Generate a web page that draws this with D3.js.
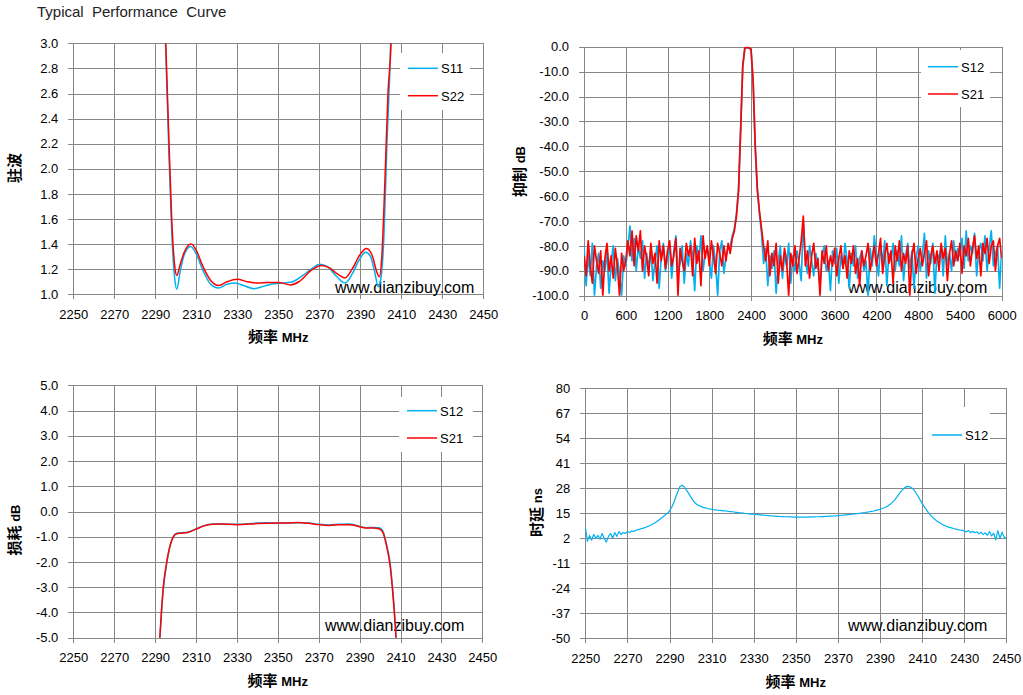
<!DOCTYPE html>
<html>
<head>
<meta charset="utf-8">
<title>Typical Performance Curve</title>
<script src="https://cdn.jsdelivr.net/npm/d3@7"></script>
<style>
  body { margin: 0; background: #fff; }
  svg text { font-family: "Liberation Sans", Arial, "Noto Sans CJK SC", sans-serif; fill: #000; }
  .grid line { stroke: #878787; stroke-width: 1; shape-rendering: crispEdges; }
  .grid path { display: none; }
  .axis path, .axis line { stroke: #878787; stroke-width: 1; shape-rendering: crispEdges; }
  .axis text { font-size: 13px; }
  .atitle { font-size: 13px; font-weight: bold; }
  .cjk { font-family: "Noto Sans CJK SC", sans-serif; font-size: 15px; }
  .mark { font-size: 16px; }
  .title { font-size: 15px; white-space: pre; fill: #222; }
</style>
</head>
<body>
<svg id="chart" width="1023" height="695"></svg>
<script>
// ---- 驻波 (VSWR) ----
var vswrFreqS11 = [2293, 2295, 2296.5, 2298, 2299.5, 2300.5, 2302, 2304, 2307.3, 2310,
                   2313, 2317, 2320.7, 2325, 2329, 2333, 2338, 2343, 2348, 2353,
                   2357, 2362, 2366, 2370.3, 2374, 2378, 2382.5, 2386, 2389, 2392.6,
                   2395, 2397, 2398.8, 2400, 2401.5, 2403, 2404.8, 2406];
var vswrS11 = [4.0, 3.0, 2.2, 1.5, 1.12, 1.04, 1.17, 1.31, 1.38, 1.32,
               1.2, 1.08, 1.05, 1.08, 1.09, 1.07, 1.045, 1.065, 1.085, 1.09,
               1.10, 1.15, 1.2, 1.24, 1.22, 1.15, 1.09, 1.16, 1.26, 1.335,
               1.30, 1.18, 1.06, 1.12, 1.45, 2.2, 3.0, 4.0];
var vswrFreqS22 = [2293, 2295.1, 2296.5, 2298, 2299.5, 2300.5, 2302, 2304, 2307.5, 2310,
                   2313, 2317, 2321, 2325, 2330, 2335, 2340, 2345, 2350, 2356,
                   2360, 2366, 2371, 2375, 2379, 2382.5, 2386, 2390, 2393, 2396,
                   2398, 2399.3, 2400.5, 2402, 2403.5, 2405, 2406.5];
var vswrS22 = [4.0, 3.0, 2.3, 1.6, 1.22, 1.15, 1.23, 1.33, 1.40, 1.35,
               1.23, 1.11, 1.07, 1.1, 1.12, 1.1, 1.09, 1.095, 1.095, 1.075,
               1.1, 1.19, 1.23, 1.21, 1.16, 1.13, 1.2, 1.32, 1.365, 1.30,
               1.18, 1.14, 1.3, 1.9, 2.6, 3.0, 4.0];

// ---- 抑制 (wideband rejection), 0..6000 MHz every 30 MHz ----
var rejFreq = d3.range(0, 6001, 30);
var rejS21 = [
  -84, -92, -78, -88, -95, -80, -86, -91, -82, -100,
  -85, -79, -90, -84, -93, -81, -88, -100, -83, -90,
  -86, -78, -84, -74, -88, -76, -82, -74, -90, -80,
  -85, -92, -79, -87, -83, -95, -78, -86, -80, -89,
  -82, -78, -88, -84, -77, -100, -81, -86, -90, -79,
  -84, -80, -92, -77, -87, -82, -96, -76, -85, -80,
  -88, -78, -84, -91, -79, -83, -88, -80, -86, -79,
  -83, -77, -74, -68, -58, -34, -8, -0.5, -0.3, -0.4,
  -1.2, -14, -40, -57, -66, -73, -80, -86, -78, -92,
  -83, -88, -79, -95, -84, -90, -81, -86, -100, -83,
  -88, -80, -91, -85, -78, -68, -88, -82, -93, -84,
  -79, -89, -85, -100, -82, -87, -80, -90, -84, -88,
  -81, -92, -85, -80, -89, -84, -93, -82, -87, -80,
  -91, -85, -96, -82, -88, -84, -79, -90, -85, -80,
  -88, -83, -77, -91, -84, -79, -87, -82, -95, -80,
  -86, -78, -90, -83, -87, -80, -100, -84, -79, -91,
  -85, -81, -88, -83, -78, -92, -84, -80, -87, -82,
  -90, -79, -85, -81, -94, -83, -78, -88, -82, -86,
  -79, -91, -80, -84, -77, -88, -81, -76, -85, -80,
  -92, -79, -83, -77, -87, -80, -78, -90, -80, -77,
  -85];
var rejS12 = [
  -80, -96, -84, -92, -79, -100, -88, -83, -97, -86,
  -90, -82, -99, -87, -80, -94, -85, -91, -100, -84,
  -88, -81, -72, -86, -77, -90, -80, -85, -78, -93,
  -83, -89, -81, -94, -86, -80, -97, -84, -79, -90,
  -85, -80, -93, -82, -76, -91, -87, -80, -95, -83,
  -88, -78, -84, -98, -80, -86, -76, -90, -83, -81,
  -86, -93, -80, -87, -100, -82, -78, -91, -84, -81,
  -80, -76, -73, -67, -57, -33, -8, -0.6, -0.4, -0.5,
  -1.3, -15, -41, -58, -67, -75, -87, -81, -96, -84,
  -89, -82, -99, -86, -80, -93, -84, -88, -79, -95,
  -84, -90, -82, -87, -94, -70, -85, -91, -80, -86,
  -92, -83, -88, -96, -84, -80, -90, -86, -98, -82,
  -87, -81, -95, -84, -89, -79, -86, -97, -83, -88,
  -80, -93, -85, -82, -90, -86, -100, -81, -88, -76,
  -84, -92, -80, -87, -78, -96, -83, -86, -79, -90,
  -82, -88, -76, -94, -84, -79, -89, -82, -97, -85,
  -80, -90, -84, -75, -93, -82, -87, -79, -99, -83,
  -85, -80, -92, -76, -88, -83, -90, -78, -86, -81,
  -84, -77, -89, -74, -86, -80, -83, -75, -92, -82,
  -79, -86, -76, -90, -81, -74, -88, -83, -80, -97,
  -82];

// ---- 损耗 (insertion loss) ----
var ilFreq = [2291, 2292.3, 2294, 2295.7, 2297.5, 2299, 2300.6, 2303, 2306, 2310,
              2314, 2318, 2322, 2330, 2340, 2345, 2350, 2355, 2360, 2365,
              2370, 2375, 2380, 2385, 2390, 2393, 2397, 2399.5, 2401.5, 2403,
              2405, 2406.5, 2407.8, 2409];
var ilS21 = [-7, -5.0, -3.0, -2.0, -1.3, -1.0, -0.88, -0.86, -0.83, -0.7,
             -0.57, -0.51, -0.5, -0.52, -0.48, -0.47, -0.46, -0.46, -0.44, -0.47,
             -0.52, -0.55, -0.52, -0.52, -0.6, -0.65, -0.65, -0.68, -0.85, -1.3,
             -2.2, -3.5, -5.0, -7];
var ilS12 = [-7, -5.1, -3.1, -2.05, -1.32, -0.98, -0.86, -0.84, -0.82, -0.69,
             -0.56, -0.5, -0.5, -0.51, -0.46, -0.45, -0.46, -0.45, -0.45, -0.46,
             -0.51, -0.53, -0.51, -0.5, -0.59, -0.64, -0.63, -0.64, -0.8, -1.25,
             -2.1, -3.4, -4.9, -7];

// ---- 时延 (group delay), 2250..2450 MHz every 1 MHz ----
var gdFreq = d3.range(2250, 2451, 1);
var gdS12 = [
  8, 0.5, 3.5, 1, 4, 2, 3.5, 1.5, 4.5, 2, 0, 3, 4.5, 2, 5, 3, 5.5, 4, 5, 4.5,
  5.5, 5, 5.8, 5.6, 6.2, 6.5, 6.8, 7.2, 7.4, 7.9,
  8.3, 8.8, 9.4, 10, 10.8, 11.5, 12.4, 13.2, 14.1, 15,
  16.2, 18, 20.5, 23.5, 26.5, 29, 29.6, 28.8, 27.2, 25.5,
  23.7, 22, 20.6, 19.6, 19, 18.6, 18.1, 17.8, 17.5, 17.3,
  17.1, 16.9, 16.8, 16.6, 16.5, 16.4, 16.3, 16.2, 16.0, 15.9,
  15.8, 15.6, 15.5, 15.3, 15.2, 15.1, 14.9, 14.8, 14.7, 14.6,
  14.5, 14.4, 14.3, 14.2, 14.1, 14.0, 13.9, 13.8, 13.7, 13.6,
  13.5, 13.4, 13.4, 13.3, 13.3, 13.2, 13.2, 13.1, 13.1, 13.0,
  13.0, 13.0, 13.0, 13.0, 13.0, 13.0, 13.0, 13.1, 13.1, 13.1,
  13.2, 13.2, 13.3, 13.3, 13.4, 13.4, 13.5, 13.5, 13.6, 13.7,
  13.8, 13.9, 14.0, 14.1, 14.2, 14.3, 14.4, 14.5, 14.7, 14.8,
  15.0, 15.1, 15.3, 15.4, 15.6, 15.8, 16.0, 16.2, 16.5, 16.8,
  17.1, 17.5, 17.9, 18.4, 19.0, 19.8, 20.8, 22.0, 23.4, 25.0,
  26.4, 27.6, 28.5, 29.0, 28.9, 28.3, 27.3, 25.8, 24.0, 22.1,
  20.3, 18.5, 16.9, 15.4, 14.1, 12.9, 11.9, 11.0, 10.3, 9.6,
  9.0, 8.5, 8.1, 7.7, 7.4, 7.1, 6.8, 6.5, 6.3, 6.1,
  5.9, 5.3, 6.0, 5.0, 5.6, 4.9, 5.4, 4.3, 5.2, 3.9,
  4.8, 3.6, 5.5, 3.2, 4.6, 1.2, 6.0, 2.0, 5.2, 2.6, 2.0];

// ---- tick labels ----
var bandTicks = d3.range(2250, 2451, 20);
var wideTicks = d3.range(0, 6001, 600);
var vswrTicks = [1.0, 1.2, 1.4, 1.6, 1.8, 2.0, 2.2, 2.4, 2.6, 2.8, 3.0];
var rejTicks = [0, -10, -20, -30, -40, -50, -60, -70, -80, -90, -100];
var ilTicks = [5, 4, 3, 2, 1, 0, -1, -2, -3, -4, -5];
var gdTicks = [80, 67, 54, 41, 28, 15, 2, -11, -24, -37, -50];

var BLUE = "#00b0f0", RED = "#ff0000";
var fmt1 = function(d) { return d.toFixed(1); };

var svg = d3.select("#chart");
svg.append("text").attr("class", "title").attr("x", 37).attr("y", 17)
  .text("Typical  Performance  Curve");

function zip(xs, ys) { return xs.map(function(v, i) { return [v, ys[i]]; }); }

var panels = [
  { left: 73.3, right: 483.3, top: 43.3, bottom: 294.3,
    xDomain: [2250, 2450], yDomain: [1, 3], xTicks: bandTicks, yTicks: vswrTicks, yFmt: fmt1,
    yTitle: "驻波", yUnit: "", yTitlePos: [15, 168], xTitleY: 342, curve: d3.curveMonotoneX, width: 1.5,
    series: [{ name: "S11", color: BLUE, pts: zip(vswrFreqS11, vswrS11) },
             { name: "S22", color: RED, pts: zip(vswrFreqS22, vswrS22) }],
    legend: { x: 400, y: 53, w: 70, h: 57, lx: 408, ly: [68.3, 95.7] }, mark: [335, 293] },
  { left: 584, right: 1001.7, top: 46.7, bottom: 295.7,
    xDomain: [0, 6000], yDomain: [-100, 0], xTicks: wideTicks, yTicks: rejTicks, yFmt: fmt1,
    yTitle: "抑制", yUnit: " dB", yTitlePos: [519.5, 171.5], xTitleY: 343.5, curve: d3.curveLinear, width: 1.7,
    series: [{ name: "S12", color: BLUE, pts: zip(rejFreq, rejS12) },
             { name: "S21", color: RED, pts: zip(rejFreq, rejS21) }],
    legend: { x: 921, y: 50, w: 69, h: 57, lx: 928, ly: [66.7, 94] }, mark: [848, 293] },
  { left: 73.3, right: 482.3, top: 385.3, bottom: 637.7,
    xDomain: [2250, 2450], yDomain: [-5, 5], xTicks: bandTicks, yTicks: ilTicks, yFmt: fmt1,
    yTitle: "损耗", yUnit: " dB", yTitlePos: [15, 530], xTitleY: 686, curve: d3.curveMonotoneX, width: 1.5,
    series: [{ name: "S12", color: BLUE, pts: zip(ilFreq, ilS12) },
             { name: "S21", color: RED, pts: zip(ilFreq, ilS21) }],
    legend: { x: 399, y: 397, w: 74, h: 55, lx: 407, ly: [410.7, 438] }, mark: [325, 631] },
  { left: 585.3, right: 1006.3, top: 388.3, bottom: 638.3,
    xDomain: [2250, 2450], yDomain: [-50, 80], xTicks: bandTicks, yTicks: gdTicks, yFmt: String,
    yTitle: "时延", yUnit: " ns", yTitlePos: [537, 512.5], xTitleY: 687, curve: d3.curveLinear, width: 1.2,
    series: [{ name: "S12", color: BLUE, pts: zip(gdFreq, gdS12) }],
    legend: { x: 923, y: 407, w: 67, h: 56, lx: 932, ly: [435] }, mark: [848, 631] }
];

panels.forEach(function(p, pi) {
  var w = p.right - p.left, h = p.bottom - p.top;
  var x = d3.scaleLinear().domain(p.xDomain).range([p.left, p.right]);
  var y = d3.scaleLinear().domain(p.yDomain).range([p.bottom, p.top]);
  var g = svg.append("g");

  // grid lines
  g.append("g").attr("class", "grid").attr("transform", "translate(0," + p.bottom + ")")
    .call(d3.axisBottom(x).tickValues(p.xTicks).tickSize(-h).tickFormat(""));
  g.append("g").attr("class", "grid").attr("transform", "translate(" + p.left + ",0)")
    .call(d3.axisLeft(y).tickValues(p.yTicks).tickSize(-w).tickFormat(""));

  // axes with outside tick marks
  g.append("g").attr("class", "axis").attr("transform", "translate(0," + p.bottom + ")")
    .call(d3.axisBottom(x).tickValues(p.xTicks).tickSizeInner(5).tickSizeOuter(0).tickPadding(10)
      .tickFormat(function(d) { return String(d); }));
  g.append("g").attr("class", "axis").attr("transform", "translate(" + p.left + ",0)")
    .call(d3.axisLeft(y).tickValues(p.yTicks).tickSizeInner(5).tickSizeOuter(0).tickPadding(10)
      .tickFormat(p.yFmt));

  // legend box (hides gridlines behind it)
  var lg = p.legend;
  g.append("rect").attr("x", lg.x).attr("y", lg.y).attr("width", lg.w).attr("height", lg.h)
    .attr("fill", "#fff");

  // watermark
  g.append("text").attr("class", "mark").attr("x", p.mark[0]).attr("y", p.mark[1])
    .text("www.dianzibuy.com");

  // series
  var clipId = "clip" + pi;
  svg.append("clipPath").attr("id", clipId).append("rect")
    .attr("x", p.left).attr("y", p.top).attr("width", w).attr("height", h);
  var line = d3.line().curve(p.curve)
    .x(function(d) { return x(d[0]); }).y(function(d) { return y(d[1]); });
  g.append("g").attr("clip-path", "url(#" + clipId + ")")
    .selectAll("path").data(p.series).enter().append("path")
    .attr("d", function(s) { return line(s.pts); })
    .attr("fill", "none").attr("stroke", function(s) { return s.color; })
    .attr("stroke-width", p.width).attr("stroke-linejoin", "round");

  // legend entries
  p.series.forEach(function(s, i) {
    g.append("line").attr("x1", lg.lx).attr("x2", lg.lx + 30)
      .attr("y1", lg.ly[i]).attr("y2", lg.ly[i])
      .attr("stroke", s.color).attr("stroke-width", 1.5);
    g.append("text").attr("x", lg.lx + 33).attr("y", lg.ly[i] + 5)
      .style("font-size", "13px").text(s.name);
  });

  // axis titles
  var xt = g.append("text").attr("class", "atitle").attr("text-anchor", "middle")
    .attr("x", (p.left + p.right) / 2).attr("y", p.xTitleY);
  xt.append("tspan").attr("class", "cjk").text("频率");
  xt.append("tspan").text(" MHz");

  var yt = g.append("text").attr("class", "atitle").attr("text-anchor", "middle")
    .attr("transform", "translate(" + (p.yTitlePos[0] + 5) + "," + p.yTitlePos[1] + ") rotate(-90)");
  yt.append("tspan").attr("class", "cjk").text(p.yTitle);
  if (p.yUnit) yt.append("tspan").text(p.yUnit);
});
</script>
</body>
</html>
